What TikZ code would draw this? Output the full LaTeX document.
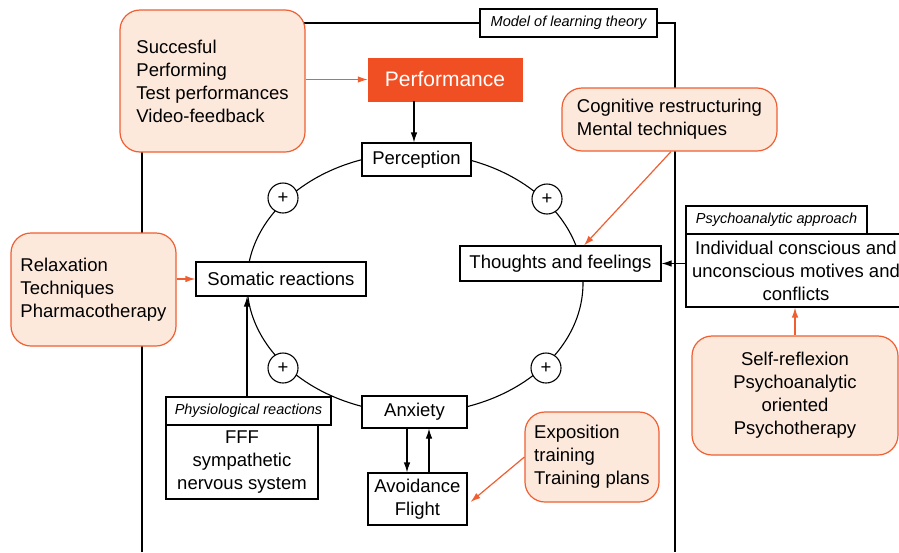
\documentclass[tikz,border=0pt]{standalone}
\usepackage{fontspec}
\setmainfont{Liberation Sans}
\usetikzlibrary{arrows.meta}
\definecolor{oline}{RGB}{240,95,50}
\definecolor{peach}{RGB}{253,233,220}
\definecolor{perfred}{RGB}{240,78,35}
\tikzset{
  mainfont/.style={font=\fontsize{18.5}{23}\selectfont},
  labfont/.style={font=\fontsize{14.5}{17}\selectfont\itshape},
  bbox/.style={draw=black, line width=1.1pt, fill=white, inner sep=0pt, mainfont, align=center},
  labbox/.style={draw=black, line width=1.1pt, fill=white, inner sep=0pt, labfont, align=center},
  obox/.style={draw=oline, line width=1.2pt, fill=peach, rounded corners=20pt, inner sep=0pt, mainfont},
  plusnode/.style={circle, draw=black, line width=1.1pt, fill=white, minimum size=30pt, inner sep=0pt, mainfont},
  arr/.style={line width=1.1pt, -{Latex[length=10pt,width=6.5pt]}},
  oarr/.style={draw=oline, line width=1.2pt, -{Latex[length=10pt,width=6.5pt]}},
  frameline/.style={line width=1.2pt}
}
\begin{document}
\begin{tikzpicture}[x=1pt,y=-1pt]
\useasboundingbox (0,0) rectangle (899,552);
\clip (0,0) rectangle (899,552);
\fill[white] (0,0) rectangle (899,552);
% frame of learning theory model
\draw[frameline] (142,552) -- (142,23) -- (675,23) -- (675,552);
% cycle
\draw[line width=1.1pt] (415,283) ellipse [x radius=168pt, y radius=130pt];
% boxes
\node[obox, align=left, minimum width=185pt, minimum height=142pt] (succ) at (212.5,81)
  {Succesful\\Performing\\Test performances\\Video-feedback};
\node[draw=perfred, fill=perfred, text=white, inner sep=0pt, minimum width=154pt, minimum height=43pt,
  font=\fontsize{21}{25}\selectfont] (perf) at (445,79.5) {Performance};
\node[labbox, minimum width=177pt, minimum height=28pt] (model) at (568.5,23) {Model of learning theory};
\node[bbox, minimum width=109pt, minimum height=33pt] (perc) at (416.5,159.5) {Perception};
\node[bbox, minimum width=170pt, minimum height=34pt] (soma) at (281,279) {Somatic reactions};
\node[bbox, minimum width=201pt, minimum height=35pt] (thou) at (560.5,263.5) {Thoughts and feelings};
\node[bbox, minimum width=105pt, minimum height=32pt] (anx) at (414.5,412) {Anxiety};
\node[bbox, minimum width=99pt, minimum height=52pt] (avoid) at (417.5,499) {Avoidance\\Flight};
\node[bbox, minimum width=152pt, minimum height=74pt] (physbody) at (242,462) {FFF\\sympathetic\\nervous system};
\node[labbox, minimum width=165pt, minimum height=28pt] (physlab) at (248.5,411) {Physiological reactions};
\node[obox, align=left, minimum width=215pt, minimum height=63pt] (cog) at (669.5,119.5)
  {Cognitive restructuring\\Mental techniques};
\node[bbox, minimum width=220pt, minimum height=73pt] (psybody) at (796,270.5)
  {Individual conscious and\\unconscious motives and\\conflicts};
\node[labbox, minimum width=181pt, minimum height=28pt] (psylab) at (776.5,220) {Psychoanalytic approach};
\node[obox, align=center, minimum width=206pt, minimum height=119pt] (self) at (795,395.5)
  {Self-reflexion\\Psychoanalytic\\oriented\\Psychotherapy};
\node[obox, align=left, minimum width=165pt, minimum height=113pt] (relax) at (93.5,289.5)
  {Relaxation\\Techniques\\Pharmacotherapy};
\node[obox, align=left, minimum width=134pt, minimum height=90pt] (expo) at (592,457)
  {Exposition\\training\\Training plans};
% plus signs on the cycle
\node[plusnode] (p1) at (283,198) {+};
\node[plusnode] (p2) at (547,199) {+};
\node[plusnode] (p3) at (283,368) {+};
\node[plusnode] (p4) at (546,368) {+};
% connectors
\draw[oarr] (succ.east |- perf) -- (perf.west);
\draw[arr] (perf.south -| 414,0) -- (perc.north -| 414,0);
\draw[oarr] (relax.east |- soma) -- (soma.west);
\draw[oarr] ([xshift=1.5pt]cog.south) -- ([xshift=23.5pt]thou.north);
\draw[arr] (psybody.west |- thou) -- (thou.east);
\draw[oarr] (self.north) -- (self.north |- psybody.south);
\draw[arr] (anx.south -| 407,0) -- (avoid.north -| 407,0);
\draw[arr] (avoid.north -| 429,0) -- (anx.south -| 429,0);
\draw[arr] (physlab.north -| 247,0) -- (soma.south -| 247,0);
\draw[oarr] (expo.west) -- ([xshift=3pt,yshift=-3pt]avoid.east);
\end{tikzpicture}
\end{document}
